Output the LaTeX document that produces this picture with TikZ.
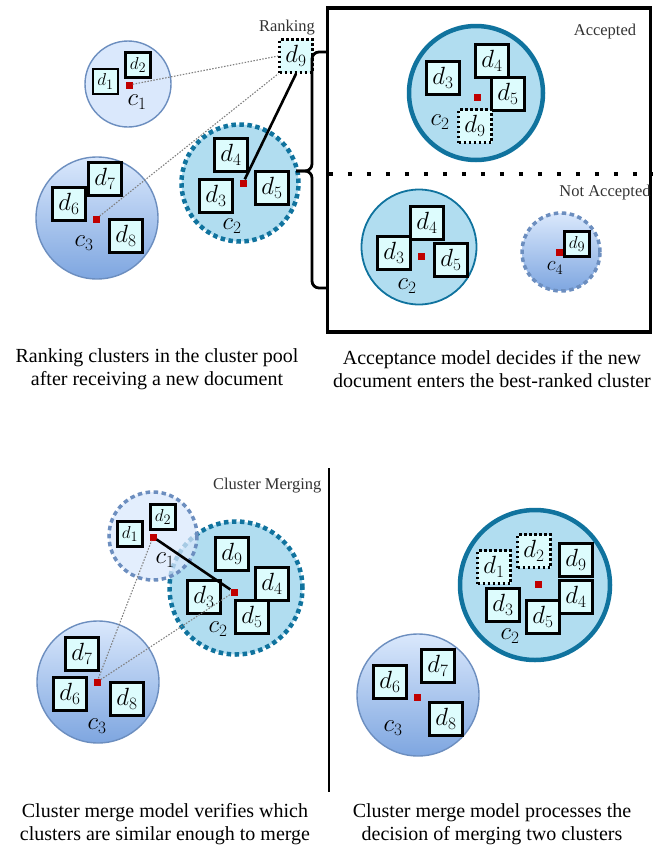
\documentclass[tikz,border=0pt]{standalone}
\usepackage[no-math]{fontspec}
\setmainfont{Liberation Serif}
\usepackage{amsmath}
\usetikzlibrary{shapes, calc, positioning}

\definecolor{palefill}{HTML}{DAE8FC}
\definecolor{paleedge}{HTML}{6C8EBF}
\definecolor{deepfill}{HTML}{7EA6E0}
\definecolor{bluefill}{HTML}{B1DDF0}
\definecolor{blueedge}{HTML}{10739E}
\definecolor{docfill}{HTML}{DDFCFD}
\definecolor{centred}{HTML}{C00000}

\tikzset{
  doc/.style={draw, line width=2.6pt, fill=docfill, minimum size=33pt, inner sep=0pt, font=\fontsize{24}{24}\selectfont},
  smalldoc/.style={doc, line width=2.2pt, minimum size=25pt, font=\fontsize{19}{19}\selectfont},
  newdoc/.style={dash pattern=on 2.6pt off 2.4pt},
  centroid/.style={fill=centred, minimum size=7pt, inner sep=0pt},
  clabel/.style={inner sep=0pt, font=\fontsize{24}{24}\selectfont},
  paleclust/.style={circle, draw=paleedge, line width=1.4pt, fill=palefill},
  shadeclust/.style={circle, draw=paleedge, line width=1.4pt, top color=palefill, bottom color=deepfill},
  blueclust/.style={circle, draw=blueedge, line width=1.8pt, fill=bluefill},
  chosen/.style={line width=4.5pt},
  candidate/.style={dash pattern=on 4.5pt off 3.5pt, line width=4.5pt},
  simline/.style={draw=gray, line width=1.1pt, dash pattern=on 1.5pt off 1.5pt},
  bestline/.style={line width=2.6pt},
  stagename/.style={font=\fontsize{16.5}{16.5}\selectfont, text=black!80},
  panelcap/.style={align=center, font=\fontsize{20}{23.5}\selectfont},
}

\begin{document}
\begin{tikzpicture}[x=1pt, y=-1pt]
\useasboundingbox (0,0) rectangle (653,849);

% ranking the cluster pool
\node[paleclust, minimum size=86pt] (rkC1) at (128,84) {};
\node[shadeclust, minimum size=122pt] (rkC3) at (97,218) {};
\node[blueclust, candidate, minimum size=117pt] (rkC2) at (240,183) {};

\node[smalldoc] (rkD1) at (105.5,81.5) {$d_1$};
\node[smalldoc] (rkD2) at (138,65) {$d_2$};
\node[centroid] (rkM1) at (129,85) {};
\node[clabel] (rkL1) at (137,102) {$c_1$};

\node[doc] (rkD7) at (105,179) {$d_7$};
\node[doc] (rkD6) at (69,204) {$d_6$};
\node[doc] (rkD8) at (126,236) {$d_8$};
\node[centroid] (rkM3) at (96,219) {};
\node[clabel] (rkL3) at (84,243) {$c_3$};

\node[doc] (rkD4) at (231,155) {$d_4$};
\node[doc] (rkD3) at (216,196) {$d_3$};
\node[doc] (rkD5) at (272,188) {$d_5$};
\node[centroid] (rkM2) at (243,183) {};
\node[clabel] (rkL2) at (232,226) {$c_2$};

\node[doc, newdoc] (rkD9) at (296,56) {$d_9$};
\node[stagename] (rank) at (287,28) {Ranking};

\draw[simline] (rkM1) -- (rkD9.west);
\draw[simline] (rkM3) -- (rkD9.south west);
\draw[bestline] (rkD9.south) -- (rkM2);

% brace into the acceptance box
\draw[line width=2.8pt, rounded corners=7pt] (327,52) -- (312,52) -- (312,171) -- (296,171);
\draw[line width=2.8pt, rounded corners=7pt] (296,171) -- (312,171) -- (312,288) -- (327,288);

% acceptance model
\node[draw, line width=3.2pt, minimum width=323pt, minimum height=324pt, inner sep=0pt] (accbox) at (489,170) {};
\draw[line width=4pt, dash pattern=on 4pt off 15pt] ($(accbox.west)+(3,4)$) -- ($(accbox.east)+(0,4)$);
\node[stagename] (acc) at (605,32) {Accepted};
\node[stagename] (notacc) at (605,193) {Not Accepted};

\node[blueclust, chosen, minimum size=134pt] (acC2) at (476,93) {};
\node[doc] (acD3) at (443,78) {$d_3$};
\node[doc] (acD4) at (492,61) {$d_4$};
\node[doc] (acD5) at (508,94) {$d_5$};
\node[doc, newdoc] (acD9) at (475,126) {$d_9$};
\node[centroid] (acM2) at (477,97) {};
\node[clabel] (acL2) at (440,122) {$c_2$};

\node[blueclust, minimum size=115pt] (naC2) at (419,247) {};
\node[doc] (naD4) at (427,223) {$d_4$};
\node[doc] (naD3) at (394,253) {$d_3$};
\node[doc] (naD5) at (451,260) {$d_5$};
\node[centroid] (naM2) at (421,256) {};
\node[clabel] (naL2) at (407,286) {$c_2$};

\node[shadeclust, candidate, draw=paleedge, line width=3.5pt, minimum size=78pt] (naC4) at (561,252) {};
\node[smalldoc] (naD9) at (577,244) {$d_9$};
\node[centroid] (naM4) at (559,252) {};
\node[clabel, font=\fontsize{21}{21}\selectfont] (naL4) at (555,268) {$c_4$};

\node[panelcap] (cap1) at (157,369) {Ranking clusters in the cluster pool\\after receiving a new document};
\node[panelcap] (cap2) at (492,369) {Acceptance model decides if the new\\document enters the best-ranked cluster};

% cluster merging
\draw[line width=2.4pt] (329,468) -- (329,792);
\node[stagename, anchor=east] (merge) at (325,486) {Cluster Merging};

\node[blueclust, candidate, minimum size=133pt] (mgC2) at (236,588) {};
\node[paleclust, candidate, draw=paleedge, line width=3.5pt, fill opacity=0.75, minimum size=88pt] (mgC1) at (153,536) {};
\node[shadeclust, minimum size=122pt] (mgC3) at (98,682) {};

\node[smalldoc] (mgD1) at (130,534) {$d_1$};
\node[smalldoc] (mgD2) at (163,517) {$d_2$};
\node[centroid] (mgM1) at (153,537) {};
\node[clabel] (mgL1) at (165,560) {$c_1$};

\node[doc] (mgD9) at (232,554) {$d_9$};
\node[doc] (mgD4) at (272,584) {$d_4$};
\node[doc] (mgD3) at (204,597) {$d_3$};
\node[doc] (mgD5) at (252,617) {$d_5$};
\node[centroid] (mgM2) at (234,592) {};
\node[clabel] (mgL2) at (218,629) {$c_2$};

\node[doc] (mgD7) at (82,654) {$d_7$};
\node[doc] (mgD6) at (70,694) {$d_6$};
\node[doc] (mgD8) at (127,699) {$d_8$};
\node[centroid] (mgM3) at (97,682) {};
\node[clabel] (mgL3) at (97,726) {$c_3$};

\draw[bestline] (mgM1) -- (mgM2);
\draw[simline] (mgM3) -- (mgM1);
\draw[simline] (mgM3) -- (mgM2);

% merged result
\node[blueclust, chosen, minimum size=150pt] (mdC2) at (535,585) {};
\node[doc, newdoc] (mdD1) at (494,567) {$d_1$};
\node[doc, newdoc] (mdD2) at (534,551) {$d_2$};
\node[doc] (mdD9) at (576,560) {$d_9$};
\node[doc] (mdD4) at (576,597) {$d_4$};
\node[doc] (mdD3) at (503,605) {$d_3$};
\node[doc] (mdD5) at (543,617) {$d_5$};
\node[centroid] (mdM2) at (538,584) {};
\node[clabel] (mdL2) at (510,636) {$c_2$};

\node[shadeclust, minimum size=122pt] (mdC3) at (418,695) {};
\node[doc] (mdD6) at (390,682) {$d_6$};
\node[doc] (mdD7) at (438,666) {$d_7$};
\node[doc] (mdD8) at (446,719) {$d_8$};
\node[centroid] (mdM3) at (417,697) {};
\node[clabel] (mdL3) at (393,728) {$c_3$};

\node[panelcap] (cap3) at (165,824) {Cluster merge model verifies which\\clusters are similar enough to merge};
\node[panelcap] (cap4) at (492,824) {Cluster merge model processes the\\decision of merging two clusters};
\end{tikzpicture}
\end{document}
